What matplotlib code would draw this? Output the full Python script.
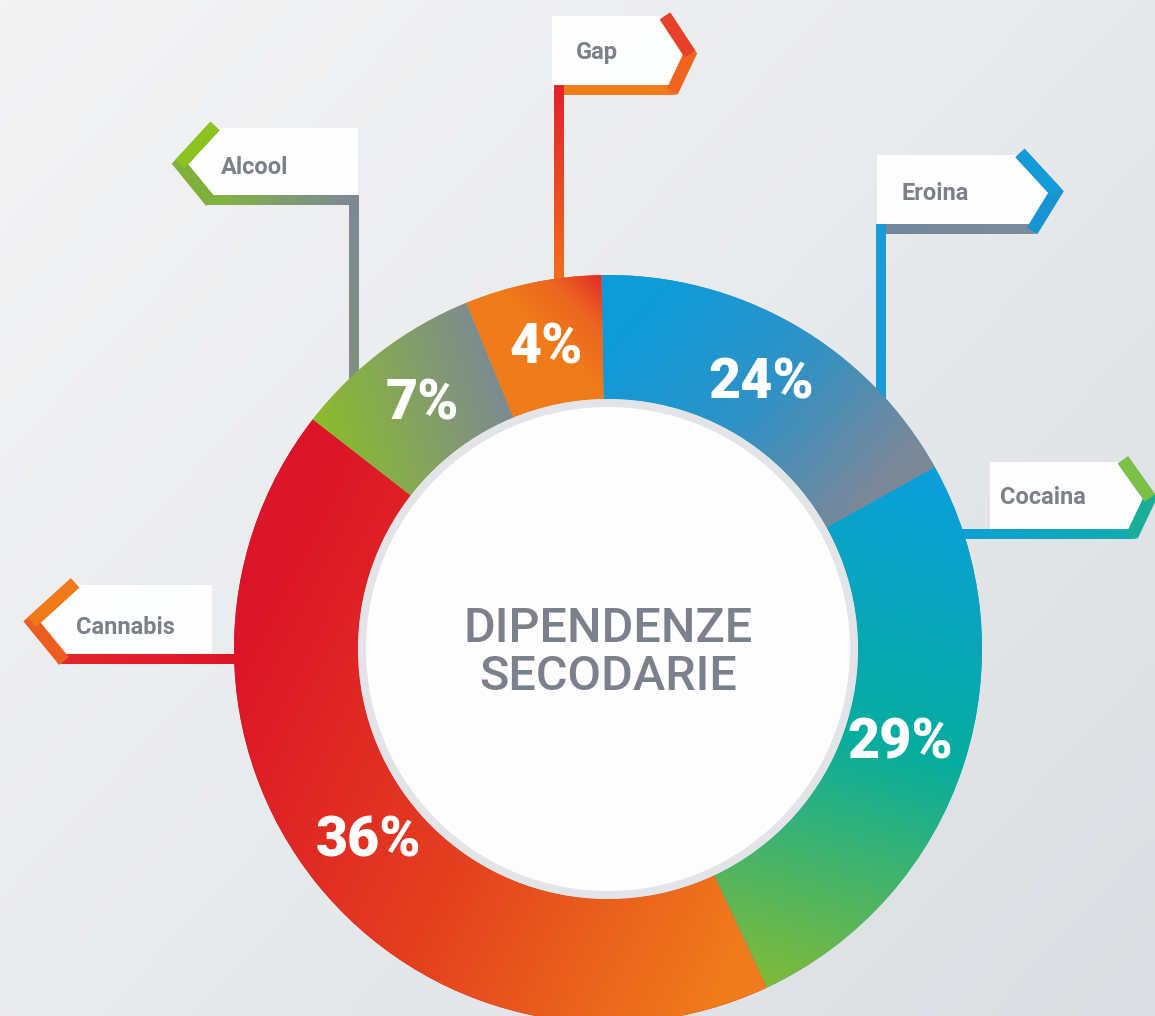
import numpy as np
import matplotlib.pyplot as plt
from matplotlib.colors import LinearSegmentedColormap
from matplotlib.collections import LineCollection
from matplotlib.patches import Polygon, Circle

W, H = 1155, 1016

# data (clockwise from 12 o'clock)
names = ['Eroina', 'Cocaina', 'Cannabis', 'Alcool', 'Gap']
pct_labels = [24, 29, 36, 7, 4]            # numbers printed on the ring
arc_share = [17.2, 26.1, 42.5, 8.3, 5.9]   # arc sizes as actually drawn
center_title = 'DIPENDENZE\nSECODARIE'

# ring geometry, picture pixels
CX, CY = 608, H - 649
R_OUT, RING = 374, 124


def P(x, y):
    # picture coords (y down) -> data coords (y up)
    return x, H - y


# linear gradient of each arc: start point, end point, colours
arc_grad = {
    'Eroina':   ((650, 300), (870, 500), ['#0e9bd9', '#2f92c6', '#7c8898']),
    'Cocaina':  ((900, 480), (760, 975), ['#0b9fd8', '#06ad9f', '#7cba3c']),
    'Cannabis': ((240, 650), (760, 900), ['#dc1528', '#e4401f', '#ef7b1b']),
    'Alcool':   ((320, 440), (505, 380), ['#8bbd2b', '#7d8995']),
    'Gap':      ((545, 335), (608, 272), ['#ef7b1a', '#ec6420', '#e01f2a']),
}

# callouts: box polygon, chevron, base line, stem, text position, colours
callouts = {
    'Gap': dict(box=[(552, 16), (665, 16), (690, 54), (673, 90), (552, 90)],
                chev=[(665, 16), (690, 54), (672, 92)], chev_c=('#e8402a', '#ee6420'),
                base=[(554, 90), (676, 90)], base_c=('#ef7a1a', '#ef7a1a'),
                stem=[(559, 85), (559, 290)], stem_c=('#e1222a', '#ef6f1c'),
                txt=(597, 52)),
    'Alcool': dict(box=[(215, 128), (180, 164), (210, 200), (358, 200), (358, 128)],
                   chev=[(215, 126), (180, 164), (211, 202)], chev_c=('#8cc320', '#80b03c'),
                   base=[(206, 200), (359, 200)], base_c=('#84b63a', '#7d8993'),
                   stem=[(354, 195), (354, 395)], stem_c=('#7d8993', '#80907f'),
                   txt=(255, 167)),
    'Eroina': dict(box=[(877, 155), (1020, 155), (1056, 192), (1033, 229), (877, 229)],
                   chev=[(1020, 153), (1056, 192), (1032, 231)], chev_c=('#159bd8', '#1a93d2'),
                   base=[(876, 229), (1036, 229)], base_c=('#73869a', '#7b8b9c'),
                   stem=[(881, 224), (881, 405)], stem_c=('#1a9ad6', '#1a9ad6'),
                   txt=(935, 193)),
    'Cocaina': dict(box=[(990, 462), (1123, 462), (1150, 498), (1133, 534), (990, 534)],
                    chev=[(1123, 460), (1150, 498), (1132, 536)], chev_c=('#7cc145', '#18ae98'),
                    base=[(950, 534), (1136, 534)], base_c=('#0d9fd6', '#10adb0'),
                    stem=None, stem_c=None,
                    txt=(1043, 497)),
    'Cannabis': dict(box=[(75, 585), (32, 622), (63, 659), (212, 659), (212, 585)],
                     chev=[(75, 583), (32, 622), (64, 661)], chev_c=('#f07a18', '#eb5e20'),
                     base=[(60, 659), (250, 659)], base_c=('#e2262a', '#dd1329'),
                     stem=None, stem_c=None,
                     txt=(125, 627)),
}


def grad_line(ax, pts, c0, c1, lw, z, n=60):
    # straight line with a colour ramp from c0 to c1
    (x0, y0), (x1, y1) = P(*pts[0]), P(*pts[1])
    xs = np.linspace(x0, x1, n + 1)
    ys = np.linspace(y0, y1, n + 1)
    segs = np.stack([np.column_stack([xs[:-1], ys[:-1]]),
                     np.column_stack([xs[1:], ys[1:]])], axis=1)
    cmap = LinearSegmentedColormap.from_list('l', [c0, c1])
    lc = LineCollection(segs, colors=cmap(np.linspace(0, 1, n)), linewidths=lw,
                        capstyle='projecting', zorder=z)
    ax.add_collection(lc)


def chevron(ax, pts, c0, c1, lw, z):
    xy = np.array([P(*p) for p in pts])
    ax.plot(xy[:, 0], xy[:, 1], color=c1, lw=lw, solid_joinstyle='miter',
            solid_capstyle='butt', zorder=z)
    ax.plot(xy[:2, 0], xy[:2, 1], color=c0, lw=lw, solid_capstyle='butt', zorder=z + 0.01)


fig = plt.figure(figsize=(W / 100, H / 100), dpi=100)
ax = fig.add_axes([0, 0, 1, 1])

# background
gx, gy = np.meshgrid(np.linspace(0, 1, 300), np.linspace(0, 1, 260))
bg = np.clip(0.55 * gx + 0.45 * (1 - gy), 0, 1)
bg_cmap = LinearSegmentedColormap.from_list('bg', ['#f4f4f5', '#e9eaec', '#dcdde2'])
ax.imshow(bg, extent=(0, W, 0, H), origin='lower', cmap=bg_cmap, zorder=0,
          interpolation='bilinear', aspect='auto')

# callouts (under the ring)
for name, c in callouts.items():
    ax.add_patch(Polygon([P(*p) for p in c['box']], closed=True, fc='white',
                         ec='none', alpha=0.95, zorder=1))
    ax.text(*P(*c['txt']), name, ha='center', va='center', fontsize=17,
            family='Roboto', fontweight='bold', color='#7c8088', zorder=2)
    bx = c['base']
    # shorten by half a width so the projecting caps land on the ends
    grad_line(ax, [(bx[0][0] + 5, bx[0][1]), (bx[1][0] - 5, bx[1][1])], *c['base_c'], lw=7.0, z=1.5)
    if c['stem'] is not None:
        st = c['stem']
        grad_line(ax, [(st[0][0], st[0][1] + 5), (st[1][0], st[1][1] - 5)], *c['stem_c'], lw=7.0, z=1.5)
    chevron(ax, c['chev'], *c['chev_c'], lw=9.0, z=1.6)

# ring
wedges, _ = ax.pie(arc_share, radius=R_OUT, center=(CX, CY), startangle=91,
                   counterclock=False, wedgeprops=dict(width=RING, edgecolor='none'))
gx, gy = np.meshgrid(np.linspace(0, W, 700), np.linspace(0, H, 616))
for w, name, pct in zip(wedges, names, pct_labels):
    p0, p1, cols = arc_grad[name]
    x0, y0 = P(*p0)
    x1, y1 = P(*p1)
    dx, dy = x1 - x0, y1 - y0
    t = np.clip(((gx - x0) * dx + (gy - y0) * dy) / (dx * dx + dy * dy), 0, 1)
    w.set_facecolor(cols[0])
    w.set_zorder(3)
    im = ax.imshow(t, extent=(0, W, 0, H), origin='lower', vmin=0, vmax=1,
                   cmap=LinearSegmentedColormap.from_list(name, cols),
                   interpolation='bilinear', zorder=3.1, aspect='auto')
    im.set_clip_path(w)
    mid = np.deg2rad((w.theta1 + w.theta2) / 2)
    ax.text(CX + 307 * np.cos(mid), CY + 307 * np.sin(mid), f'{pct}%',
            ha='center', va='center', fontsize=40, family='Roboto',
            fontweight='black', color='white', zorder=5)

# inner disc
ax.add_patch(Circle((CX, CY), R_OUT - RING, fc='#e3e4e8', ec='none', zorder=4))
ax.add_patch(Circle((CX, CY), R_OUT - RING - 8, fc='#fdfdfd', ec='none', zorder=4.1))
ax.text(CX, CY + 20, center_title.split('\n')[0], ha='center', va='center',
        fontsize=35, family='Roboto', fontweight='medium', color='#7b818c', zorder=5)
ax.text(CX, CY - 28, center_title.split('\n')[1], ha='center', va='center',
        fontsize=35, family='Roboto', fontweight='medium', color='#7b818c', zorder=5)

ax.set_xlim(0, W)
ax.set_ylim(0, H)
ax.set_aspect('auto')
ax.axis('off')
fig.savefig('out.png', dpi=100)
